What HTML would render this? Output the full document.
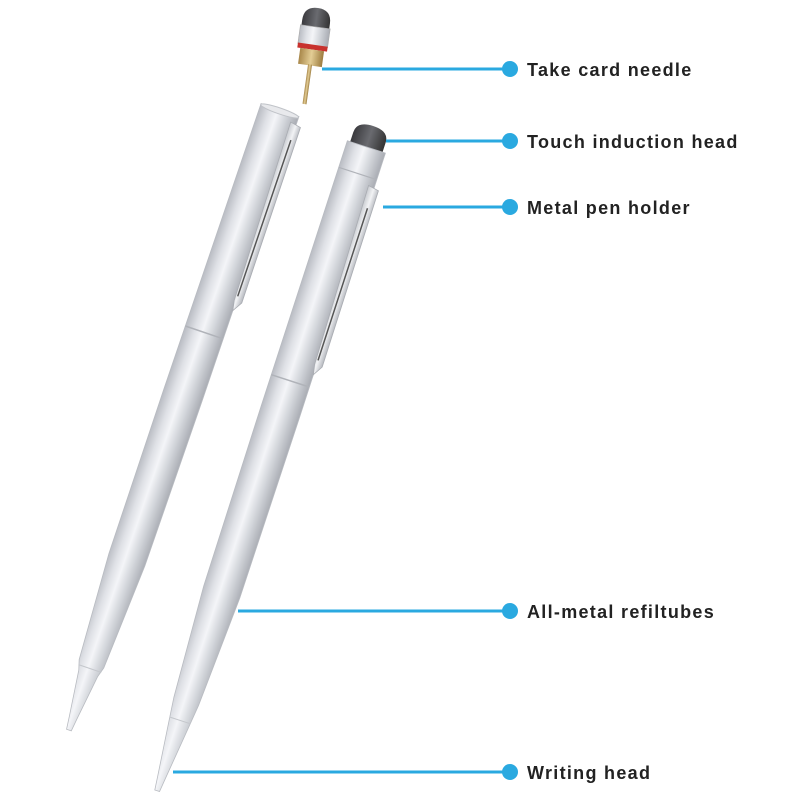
<!DOCTYPE html>
<html><head><meta charset="utf-8"><style>
html,body{margin:0;padding:0;background:#fff;width:800px;height:800px;overflow:hidden}
text{font-family:"Liberation Sans",sans-serif;font-weight:bold;font-size:18px;letter-spacing:1.3px;fill:#222}
</style></head><body>
<svg width="800" height="800" viewBox="0 0 800 800" xmlns="http://www.w3.org/2000/svg">
<defs>
<linearGradient id="silver" x1="0" x2="1" y1="0" y2="0">
<stop offset="0" stop-color="#b9bcc3"/>
<stop offset="0.25" stop-color="#dfe1e6"/>
<stop offset="0.45" stop-color="#f4f5f8"/>
<stop offset="0.7" stop-color="#d2d5da"/>
<stop offset="1" stop-color="#a9acb3"/>
</linearGradient>
<linearGradient id="clip" x1="0" x2="1"><stop offset="0" stop-color="#c8cbd0"/><stop offset="0.5" stop-color="#f2f3f5"/><stop offset="1" stop-color="#b5b8be"/></linearGradient>
<linearGradient id="gold" x1="0" x2="1"><stop offset="0" stop-color="#a8874a"/><stop offset="0.5" stop-color="#e3cd95"/><stop offset="1" stop-color="#9c7c3f"/></linearGradient>
<linearGradient id="rub" x1="0" x2="1"><stop offset="0" stop-color="#3a3a3e"/><stop offset="0.5" stop-color="#6a6b70"/><stop offset="1" stop-color="#333"/></linearGradient>
</defs>

<!-- left pen -->
<g transform="translate(280,110) rotate(18.8)">
<path d="M-20,0 L20,0 L20,300 L19,475 L13,585 L10,595 L4,642 L2.5,655 L-2.5,655 L-4,642 L-10,595 L-13,585 L-19,475 L-20,300 Z" fill="url(#silver)" stroke="#b8bbc1" stroke-width="0.8"/>
<line x1="-20" y1="235" x2="19.8" y2="235" stroke="#b0b3b9" stroke-width="1.5"/>
<line x1="-12" y1="590" x2="12" y2="590" stroke="#c4c7cc" stroke-width="1"/>
<ellipse cx="0" cy="1" rx="20" ry="3" fill="#e8e9ec" stroke="#c0c3c8"/>
<path d="M14,8 L25,10 L26,195 L20,205 L18,195 Z" fill="url(#clip)" stroke="#a9acb2" stroke-width="0.8"/>
<line x1="20" y1="25" x2="20" y2="190" stroke="#555" stroke-width="1.5"/>
</g>

<!-- right pen -->
<g transform="translate(367,145) rotate(18)">
<path d="M-17,-8 Q-17,-20 0,-20 Q17,-20 17,-8 L17,2 L-17,2 Z" fill="url(#rub)"/>
<path d="M-20,2 L20,2 L20,280 L19,470 L13,585 L10,612 L4,665 L2.5,679 L-2.5,679 L-4,665 L-10,612 L-13,585 L-19,470 L-20,280 Z" fill="url(#silver)" stroke="#b8bbc1" stroke-width="0.8"/>
<line x1="-20" y1="30" x2="20" y2="30" stroke="#b0b3b9" stroke-width="1.2"/>
<line x1="-20" y1="248" x2="19.8" y2="248" stroke="#b0b3b9" stroke-width="1.5"/>
<line x1="-11" y1="605" x2="11" y2="605" stroke="#c4c7cc" stroke-width="1"/>
<path d="M14,38 L25,40 L26,225 L20,235 L18,225 Z" fill="url(#clip)" stroke="#a9acb2" stroke-width="0.8"/>
<line x1="20" y1="60" x2="20" y2="220" stroke="#555" stroke-width="1.5"/>
</g>

<!-- floating stylus cap -->
<g transform="translate(318,8) rotate(8)">
<path d="M-14,14 Q-14,0 0,0 Q14,0 14,14 L14,20 L-14,20 Z" fill="url(#rub)"/>
<rect x="-15" y="19" width="30" height="19" fill="url(#silver)" stroke="#aaa" stroke-width="0.6"/>
<rect x="-15" y="37" width="30" height="5" fill="#c8322e"/>
<rect x="-12" y="42" width="24" height="16" fill="url(#gold)"/>
<rect x="-2" y="57" width="4" height="40" fill="url(#gold)"/>
</g>

<!-- leader lines -->
<g stroke="#2aa9e0" stroke-width="3" fill="#2aa9e0">
<line x1="322" y1="69" x2="510" y2="69"/><circle cx="510" cy="69" r="8" stroke="none"/>
<line x1="386" y1="141" x2="510" y2="141"/><circle cx="510" cy="141" r="8" stroke="none"/>
<line x1="383" y1="207" x2="510" y2="207"/><circle cx="510" cy="207" r="8" stroke="none"/>
<line x1="238" y1="611" x2="510" y2="611"/><circle cx="510" cy="611" r="8" stroke="none"/>
<line x1="173" y1="772" x2="510" y2="772"/><circle cx="510" cy="772" r="8" stroke="none"/>
</g>
<text x="527" y="76">Take card needle</text>
<text x="527" y="148">Touch induction head</text>
<text x="527" y="214">Metal pen holder</text>
<text x="527" y="618">All-metal refiltubes</text>
<text x="527" y="779">Writing head</text>
</svg>
</body></html>
